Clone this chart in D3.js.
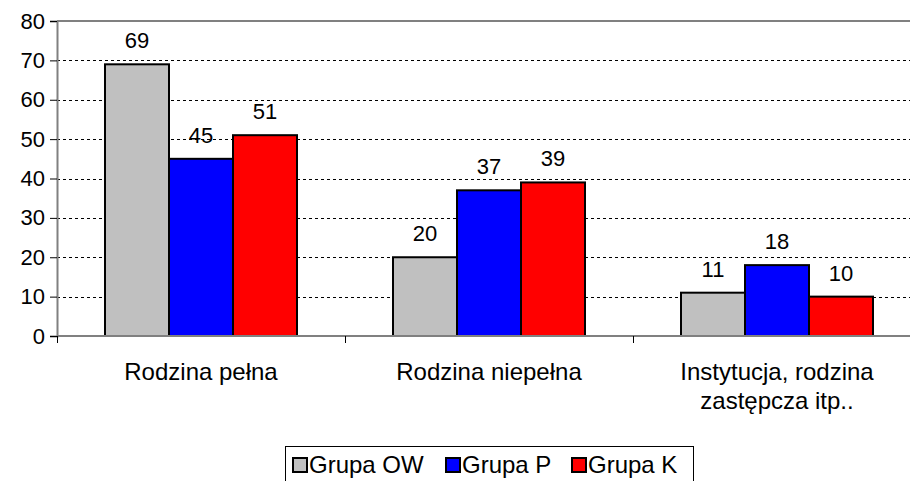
<!DOCTYPE html>
<html>
<head>
<meta charset="utf-8">
<script src="https://cdn.jsdelivr.net/npm/d3@7"></script>
<style>
  body { margin: 0; background: #fff; }
  svg { display: block; font-family: 'Liberation Sans', Arial, sans-serif; }
</style>
</head>
<body>
<svg id="chart" width="910" height="481"></svg>
<script>
const categories = [['Rodzina pełna'], ['Rodzina niepełna'], ['Instytucja, rodzina', 'zastępcza itp..']]
const series = ['Grupa OW', 'Grupa P', 'Grupa K']
const valuesOW = [69, 20, 11]
const valuesP = [45, 37, 18]
const valuesK = [51, 39, 10]
const yTicks = [0, 10, 20, 30, 40, 50, 60, 70, 80]
const colors = ['#c0c0c0', '#0000ff', '#ff0000']

const values = [valuesOW, valuesP, valuesK]
const svg = d3.select('#chart')

const plotLeft = 57, plotTop = 21, plotBottom = 336, bandW = 288
const x = d3.scaleBand().domain(d3.range(categories.length)).range([plotLeft, plotLeft + bandW * categories.length])
const xSub = d3.scaleBand().domain(d3.range(series.length)).range([0, x.bandwidth()]).paddingOuter(0.75)
const y = d3.scaleLinear().domain([0, 80]).range([plotBottom, plotTop])

// grid lines
svg.append('g').selectAll('line')
    .data(yTicks.filter(t => t > 0 && t < 80)).enter()
    .append('line')
        .attr('x1', plotLeft).attr('x2', 910)
        .attr('y1', d => Math.round(y(d)) + 0.5).attr('y2', d => Math.round(y(d)) + 0.5)
        .attr('stroke', '#000').attr('stroke-dasharray', '3,3')

// top border of the plot area
svg.append('line')
    .attr('x1', plotLeft).attr('x2', 910).attr('y1', y(80)).attr('y2', y(80))
    .attr('stroke', '#808080').attr('stroke-width', 2)

// bars
const groups = svg.append('g').selectAll('g')
    .data(categories.map((c, i) => i)).enter()
    .append('g')
        .attr('transform', d => `translate(${x(d)},0)`)

groups.selectAll('rect')
    .data(ci => values.map((v, si) => ({si, v: v[ci]}))).enter()
    .append('rect')
        .attr('x', d => xSub(d.si))
        .attr('y', d => y(d.v))
        .attr('width', xSub.bandwidth())
        .attr('height', d => y(0) - y(d.v))
        .attr('fill', d => colors[d.si])
        .attr('stroke', '#000').attr('stroke-width', 2)

groups.selectAll('text')
    .data(ci => values.map((v, si) => ({si, v: v[ci]}))).enter()
    .append('text')
        .attr('x', d => xSub(d.si) + xSub.bandwidth() / 2)
        .attr('y', d => y(d.v) - 16)
        .attr('text-anchor', 'middle')
        .attr('font-size', 22)
        .text(d => d.v)

// y axis
const yAxis = svg.append('g')
    .attr('transform', `translate(${plotLeft},0)`)
    .call(d3.axisLeft(y).tickValues(yTicks).tickSize(7).tickPadding(5))
yAxis.select('.domain').attr('stroke', '#808080').attr('stroke-width', 2)
yAxis.selectAll('.tick line').attr('stroke', '#000')
yAxis.selectAll('.tick text').attr('font-size', 22).attr('fill', '#000').attr('font-family', 'Liberation Sans, Arial, sans-serif')

// x axis
const xEdges = d3.range(categories.length + 1).map(i => plotLeft + i * x.step())
svg.append('line')
    .attr('x1', plotLeft).attr('x2', 910).attr('y1', y(0)).attr('y2', y(0))
    .attr('stroke', '#808080').attr('stroke-width', 2)
svg.append('g').selectAll('line')
    .data(xEdges).enter()
    .append('line')
        .attr('x1', d => Math.round(d) + 0.5).attr('x2', d => Math.round(d) + 0.5)
        .attr('y1', y(0)).attr('y2', y(0) + 7)
        .attr('stroke', '#000')

svg.append('g').selectAll('text')
    .data(categories).enter()
    .append('text')
        .attr('x', (d, i) => x(i) + x.bandwidth() / 2)
        .attr('y', 380)
        .attr('text-anchor', 'middle')
        .attr('font-size', 24)
        .each(function (d) {
            const cx = d3.select(this).attr('x')
            d3.select(this).selectAll('tspan')
                .data(d).enter()
                .append('tspan')
                    .attr('x', cx)
                    .attr('dy', (t, j) => j === 0 ? 0 : 29)
                    .text(t => t)
        })

// legend
const legend = svg.append('g')
legend.append('rect')
    .attr('x', 285.5).attr('y', 446.5).attr('width', 408).attr('height', 50)
    .attr('fill', 'none').attr('stroke', '#000')
const legendX = [290, 443, 569]
const item = legend.selectAll('g.item')
    .data(series).enter()
    .append('g')
        .attr('class', 'item')
        .attr('transform', (d, i) => `translate(${legendX[i]},0)`)
item.append('rect')
    .attr('x', 3).attr('y', 458).attr('width', 14).attr('height', 14)
    .attr('fill', (d, i) => colors[i])
    .attr('stroke', '#000').attr('stroke-width', 2)
item.append('text')
    .attr('x', 19).attr('y', 473)
    .attr('font-size', 24)
    .text(d => d)
</script>
</body>
</html>
